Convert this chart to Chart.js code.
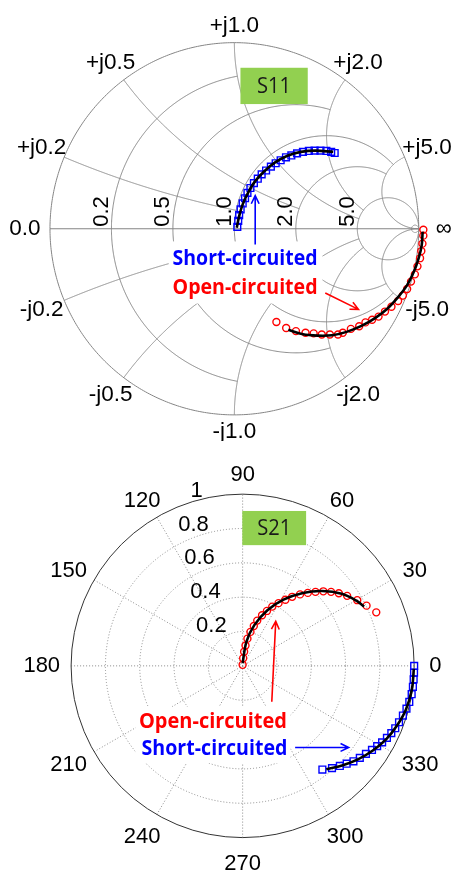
<!DOCTYPE html>
<html>
<head>
<meta charset="utf-8">
<script src="https://cdn.jsdelivr.net/npm/chart.js@4.4.1/dist/chart.umd.min.js"></script>
<style>
body{margin:0;background:#fff}
canvas{display:block}
</style>
</head>
<body>
<canvas id="smithChart" width="459" height="441"></canvas>
<canvas id="polarChart" width="459" height="441"></canvas>
<script>

let s11ShortRe=[0.016,0.021,0.026,0.034,0.045,0.058,0.071,0.087,0.106,0.127,0.148,0.172,0.198,0.224,0.251,0.280,0.309,0.340,0.372,0.404,0.435,0.467,0.499,0.525,0.544]
let s11ShortIm=[0.010,0.042,0.073,0.104,0.136,0.164,0.193,0.219,0.245,0.269,0.292,0.313,0.334,0.352,0.368,0.384,0.394,0.405,0.413,0.418,0.420,0.420,0.418,0.413,0.407]
let s11ShortFitRe=[0.013,0.026,0.045,0.074,0.113,0.161,0.219,0.288,0.361,0.441,0.536]
let s11ShortFitIm=[0.005,0.068,0.131,0.193,0.256,0.308,0.355,0.392,0.413,0.420,0.413]

let s11OpenRe=[1.025,1.025,1.020,1.014,1.007,0.993,0.979,0.958,0.937,0.914,0.888,0.852,0.817,0.782,0.747,0.711,0.677,0.632,0.588,0.562,0.518,0.474,0.430,0.386,0.334,0.281,0.228]
let s11OpenIm=[-0.005,-0.037,-0.080,-0.120,-0.158,-0.202,-0.245,-0.284,-0.324,-0.359,-0.388,-0.419,-0.445,-0.472,-0.489,-0.503,-0.524,-0.538,-0.559,-0.568,-0.568,-0.568,-0.562,-0.559,-0.550,-0.533,-0.501]
let s11OpenFitRe=[1.021,1.016,1.000,0.974,0.937,0.889,0.831,0.763,0.689,0.609,0.530,0.451,0.372,0.293]
let s11OpenFitIm=[-0.016,-0.089,-0.157,-0.230,-0.303,-0.366,-0.428,-0.480,-0.522,-0.554,-0.572,-0.574,-0.567,-0.543]

// S21, magnitude and phase (deg)
let s21OpenMag=[0.006,0.045,0.083,0.120,0.161,0.203,0.241,0.277,0.316,0.350,0.386,0.421,0.459,0.495,0.534,0.570,0.605,0.640,0.672,0.702,0.733,0.770,0.803,0.839]
let s21OpenAng=[90,86,84,82,80,77,74.3,72.1,69,66.1,63.4,60.2,57.1,54.3,51.2,48.2,45.4,42.7,39.9,37.0,33.8,29.8,25.9,21.8]
let s21OpenFitMag=[0.017,0.143,0.247,0.355,0.453,0.551,0.637,0.714,0.764,0.788]
let s21OpenFitAng=[90,81,74,66,58.3,50.4,43.2,36,29.8,26]

let s21ShortMag=[1.0,1.0,1.0,1.0,0.999,0.994,0.987,0.978,0.969,0.961,0.951,0.940,0.927,0.913,0.899,0.883,0.868,0.852,0.832,0.813,0.791,0.762]
let s21ShortAng=[0,-2.3,-4.5,-7,-9.5,-12.2,-14.6,-17.2,-19.8,-22.2,-24.3,-26.5,-28.7,-30.8,-33.0,-35.5,-38.1,-40.7,-43.2,-45.8,-48.8,-52.4]
let s21ShortFitMag=[0.998,0.996,0.985,0.965,0.94,0.905,0.865,0.82,0.775]
let s21ShortFitAng=[-1,-8,-15,-21,-27,-33,-39,-45,-51]

// grid values and tick labels
let smithValues=[0.2,0.5,1,2,5]
let smithLimits=[1,2,5,5,Infinity]
let smithRLabels=["0.2","0.5","1.0","2.0","5.0"]
let smithXLabels=["j0.2","j0.5","j1.0","j2.0","j5.0"]
let polarRings=[0.2,0.4,0.6,0.8,1]
let polarRingLabels=["0.2","0.4","0.6","0.8","1"]
let polarAngles=[0,30,60,90,120,150,180,210,240,270,300,330]

let blue="#0000ff"
let red="#ff0000"
let green="#92d050"
let axisFont="Liberation Sans, Arial, sans-serif"
let noteFont="'Open Sans', 'Noto Sans', sans-serif"


function pts(a,b){
return a.map((v,i)=>({x:v,y:b[i]}))
}

function polarPts(mag,ang){
return mag.map((m,i)=>({
x:m*Math.cos(ang[i]*Math.PI/180),
y:m*Math.sin(ang[i]*Math.PI/180)
}))
}

function gam(r,x){
let d=(r+1)*(r+1)+x*x
return [(r*r+x*x-1)/d,2*x/d]
}

function trace(ctx,chart,list){
let xs=chart.scales.x
let ys=chart.scales.y
ctx.beginPath()
list.forEach((p,i)=>{
let X=xs.getPixelForValue(p[0])
let Y=ys.getPixelForValue(p[1])
if(i==0) ctx.moveTo(X,Y)
else ctx.lineTo(X,Y)
})
ctx.stroke()
}

function rCircle(r,lim){
let c=r/(r+1)
let rad=1/(r+1)
let g=lim==Infinity?[1,0]:gam(r,lim)
let a0=Math.atan2(g[1],g[0]-c)
let list=[]
for(let i=0;i<=500;i++){
let a=a0+(2*Math.PI-2*a0)*i/500
list.push([c+rad*Math.cos(a),rad*Math.sin(a)])
}
return list
}

function xArc(x,lim){
let tMax=lim==Infinity?0.9995:lim/(lim+1)
let list=[]
for(let i=0;i<=500;i++){
let t=tMax*i/500
list.push(gam(t/(1-t),x))
}
return list
}

function write(ctx,text,x,y,font,color){
ctx.font=font
ctx.fillStyle=color||"#000"
ctx.textAlign="center"
ctx.textBaseline="middle"
ctx.fillText(text,x,y)
}

// text squeezed to a given width (narrow face like the original)
function writeWide(ctx,text,x,y,font,color,width){
ctx.save()
ctx.font=font
let w=ctx.measureText(text).width
ctx.translate(x,y)
ctx.scale(width/w,1)
ctx.fillStyle=color
ctx.textAlign="center"
ctx.textBaseline="middle"
ctx.fillText(text,0,0)
ctx.restore()
}

function arrow(ctx,x1,y1,x2,y2,color){
let a=Math.atan2(y2-y1,x2-x1)
let h=9
ctx.strokeStyle=color
ctx.lineWidth=1.6
ctx.setLineDash([])
ctx.beginPath()
ctx.moveTo(x1,y1)
ctx.lineTo(x2,y2)
ctx.moveTo(x2-h*Math.cos(a-0.45),y2-h*Math.sin(a-0.45))
ctx.lineTo(x2,y2)
ctx.lineTo(x2-h*Math.cos(a+0.45),y2-h*Math.sin(a+0.45))
ctx.stroke()
}

function noteBlock(ctx,chart,box,tag,tagBox,lines){
let xs=chart.scales.x
let ys=chart.scales.y
let X=v=>xs.getPixelForValue(v)
let Y=v=>ys.getPixelForValue(v)

ctx.fillStyle="#fff"
ctx.fillRect(X(box[0]),Y(box[1]),X(box[2])-X(box[0]),Y(box[3])-Y(box[1]))

ctx.fillStyle=green
ctx.fillRect(X(tagBox[0]),Y(tagBox[1]),X(tagBox[2])-X(tagBox[0]),Y(tagBox[3])-Y(tagBox[1]))
writeWide(ctx,tag,(X(tagBox[0])+X(tagBox[2]))/2,(Y(tagBox[1])+Y(tagBox[3]))/2+1,"400 21px "+noteFont,"#1a1a1a",34)

lines.forEach(l=>{
writeWide(ctx,l.text,X(l.x),Y(l.y),"700 21px "+noteFont,l.color,l.w)
})
}


let smithPlugin={
id:"smithGrid",
beforeDatasetsDraw(chart){
let ctx=chart.ctx
let xs=chart.scales.x
let ys=chart.scales.y
let X=v=>xs.getPixelForValue(v)
let Y=v=>ys.getPixelForValue(v)

ctx.save()
ctx.strokeStyle="#858585"
ctx.lineWidth=1

trace(ctx,chart,rCircle(0,Infinity))
trace(ctx,chart,[[-1,0],[1,0]])

smithValues.forEach((v,i)=>{
trace(ctx,chart,rCircle(v,smithLimits[i]))
trace(ctx,chart,xArc(v,smithLimits[i]))
trace(ctx,chart,xArc(-v,smithLimits[i]))
})
trace(ctx,chart,rCircle(50,Infinity))

// labels round the rim
let rim=(g,text)=>{
let a=Math.atan2(g[1],g[0])
let d=17+8*Math.abs(Math.cos(a))
write(ctx,text,X(g[0])+d*Math.cos(a),Y(g[1])-d*Math.sin(a),"22.5px "+axisFont)
}
smithValues.forEach((v,i)=>{
rim(gam(0,v),"+"+smithXLabels[i])
rim(gam(0,-v),"-"+smithXLabels[i])
})
rim([-1,0],"0.0")
rim([1,0],"\u221e")

// resistance labels along the real axis
smithValues.forEach((v,i)=>{
let g=gam(v,0)
ctx.save()
ctx.translate(X(g[0])-9.5,Y(0)-2)
ctx.rotate(-Math.PI/2)
ctx.font="22px "+axisFont
ctx.fillStyle="#000"
ctx.textAlign="left"
ctx.textBaseline="middle"
ctx.fillText(smithRLabels[i],0,0)
ctx.restore()
})

noteBlock(ctx,chart,
[-0.356,-0.068,0.478,-0.402],
"S11",[0.033,0.865,0.398,0.670],
[{text:"Short-circuited",x:0.058,y:-0.162,color:blue,w:145},
{text:"Open-circuited",x:0.058,y:-0.316,color:red,w:145}])

ctx.restore()
},
afterDatasetsDraw(chart){
let ctx=chart.ctx
let xs=chart.scales.x
let ys=chart.scales.y
let X=v=>xs.getPixelForValue(v)
let Y=v=>ys.getPixelForValue(v)
ctx.save()
arrow(ctx,X(0.113),Y(-0.084),X(0.113),Y(0.178),blue)
arrow(ctx,X(0.493),Y(-0.345),X(0.673),Y(-0.433),red)
ctx.restore()
}
}


let polarPlugin={
id:"polarGrid",
beforeDatasetsDraw(chart){
let ctx=chart.ctx
let xs=chart.scales.x
let ys=chart.scales.y
let X=v=>xs.getPixelForValue(v)
let Y=v=>ys.getPixelForValue(v)
let cx=X(0)
let cy=Y(0)
let rx=X(1)-cx
let ry=cy-Y(1)

ctx.save()
ctx.strokeStyle="#8a8a8a"
ctx.lineWidth=1
ctx.setLineDash([1,2])

polarRings.forEach(v=>{
if(v<1){
ctx.beginPath()
ctx.ellipse(cx,cy,rx*v,ry*v,0,0,2*Math.PI)
ctx.stroke()
}
})

polarAngles.forEach(a=>{
if(a<180){
let c=Math.cos(a*Math.PI/180)
let s=Math.sin(a*Math.PI/180)
ctx.beginPath()
ctx.moveTo(X(-c),Y(-s))
ctx.lineTo(X(c),Y(s))
ctx.stroke()
}
})

ctx.setLineDash([])
ctx.strokeStyle="#333"
ctx.beginPath()
ctx.ellipse(cx,cy,rx,ry,0,0,2*Math.PI)
ctx.stroke()

// angle labels
polarAngles.forEach(a=>{
let c=Math.cos(a*Math.PI/180)
let s=Math.sin(a*Math.PI/180)
let t=String(a)
ctx.font="22px "+axisFont
let w=ctx.measureText(t).width
let ax=cx+(rx+11)*c
let ay=cy-(ry+11)*s
let x=ax+c*w/2+(c>0.3?4*c:0)
let y=ay-s*8+(s<0?-s*7:0)
write(ctx,t,x,y,"22px "+axisFont)
})

// ring labels
polarRings.forEach((v,i)=>{
let a=100*Math.PI/180
ctx.font="22px "+axisFont
ctx.fillStyle="#000"
ctx.textAlign="right"
ctx.textBaseline="middle"
ctx.fillText(polarRingLabels[i],cx+rx*v*Math.cos(a)-10,cy-ry*v*Math.sin(a)-6)
})

noteBlock(ctx,chart,
[-0.624,-0.238,0.278,-0.566],
"S21",[-0.002,0.902,0.370,0.703],
[{text:"Open-circuited",x:-0.173,y:-0.325,color:red,w:148},
{text:"Short-circuited",x:-0.164,y:-0.484,color:blue,w:146}])

ctx.restore()
},
afterDatasetsDraw(chart){
let ctx=chart.ctx
let xs=chart.scales.x
let ys=chart.scales.y
let X=v=>xs.getPixelForValue(v)
let Y=v=>ys.getPixelForValue(v)
ctx.save()
arrow(ctx,X(0.170),Y(-0.209),X(0.193),Y(0.260),red)
arrow(ctx,X(0.306),Y(-0.475),X(0.618),Y(-0.475),blue)
ctx.restore()
}
}


function fitLine(data){
return {
data:data,
showLine:true,
borderColor:"#000",
borderWidth:2.6,
pointRadius:0,
tension:0.35,
fill:false
}
}

function markers(data,style,color,size){
return {
data:data,
showLine:false,
pointStyle:style,
pointRadius:size,
pointBorderColor:color,
pointBackgroundColor:"rgba(0,0,0,0)",
pointBorderWidth:1.4
}
}

function baseOptions(xMin,xMax,yMin,yMax){
return {
responsive:false,
maintainAspectRatio:false,
animation:false,
events:[],
devicePixelRatio:1,
layout:{padding:0},
plugins:{legend:{display:false},tooltip:{enabled:false}},
scales:{
x:{type:"linear",min:xMin,max:xMax,display:false},
y:{type:"linear",min:yMin,max:yMax,display:false}
}
}
}


new Chart(
document.getElementById("smithChart"),
{
type:"scatter",
data:{
datasets:[
fitLine(pts(s11ShortFitRe,s11ShortFitIm)),
fitLine(pts(s11OpenFitRe,s11OpenFitIm)),
markers(pts(s11ShortRe,s11ShortIm),"rect",blue,4.8),
markers(pts(s11OpenRe,s11OpenIm),"circle",red,3.5)
]
},
options:baseOptions(-1.23747,1.18470,-1.10705,1.19582),
plugins:[smithPlugin]
})


new Chart(
document.getElementById("polarChart"),
{
type:"scatter",
data:{
datasets:[
fitLine(polarPts(s21OpenFitMag,s21OpenFitAng)),
fitLine(polarPts(s21ShortFitMag,s21ShortFitAng)),
markers(polarPts(s21ShortMag,s21ShortAng),"rect",blue,4.8),
markers(polarPts(s21OpenMag,s21OpenAng),"circle",red,3.5)
]
},
options:baseOptions(-1.37833,1.22518,-1.22241,1.27334),
plugins:[polarPlugin]
})

</script>
</body>
</html>
